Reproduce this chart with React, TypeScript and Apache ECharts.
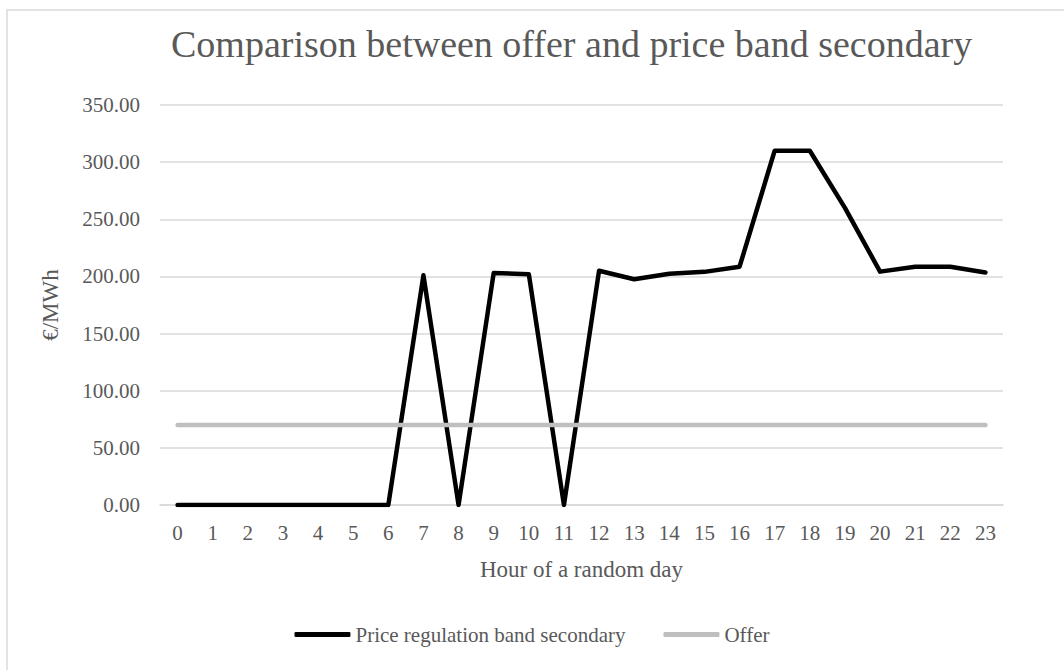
import React, { useEffect, useRef } from "react";
import * as echarts from "echarts";

const hours = ["0","1","2","3","4","5","6","7","8","9","10","11","12","13","14","15","16","17","18","19","20","21","22","23"];
const priceBand = [0,0,0,0,0,0,0,201,0,203,202,0,205,197.5,202.3,204,208.5,310,310,260,204.2,208.5,208.5,203.5];
const offer = [70,70,70,70,70,70,70,70,70,70,70,70,70,70,70,70,70,70,70,70,70,70,70,70];

const FONT = "'Liberation Serif', 'DejaVu Serif', serif";
const TXT = "#595959";

export default function App() {
  const ref = useRef<HTMLDivElement>(null);
  useEffect(() => {
    const chart = echarts.init(ref.current!, null, { renderer: "svg" });
    chart.setOption({
      animation: false,
      backgroundColor: "#ffffff",
      textStyle: { fontFamily: FONT, color: TXT },
      graphic: [
        {
          type: "rect",
          shape: { x: 7, y: 10, width: 1200, height: 800 },
          style: { fill: "none", stroke: "#d9d9d9", lineWidth: 1.5 },
          silent: true,
        },
      ],
      title: {
        text: "Comparison between offer and price band secondary",
        left: 166,
        top: 20,
        textStyle: { fontFamily: FONT, fontSize: 38, fontWeight: "normal", color: TXT },
      },
      grid: { left: 160, right: 61, top: 105, bottom: 165, containLabel: false },
      legend: {
        bottom: 20,
        left: "center",
        itemWidth: 56,
        itemHeight: 5,
        itemGap: 38,
        textStyle: { fontFamily: FONT, fontSize: 21, color: TXT },
        data: [
          { name: "Price regulation band secondary", icon: "roundRect" },
          { name: "Offer", icon: "roundRect" },
        ],
      },
      xAxis: {
        type: "category",
        data: hours,
        boundaryGap: true,
        name: "Hour of a random day",
        nameLocation: "middle",
        nameGap: 53,
        nameTextStyle: { fontFamily: FONT, fontSize: 23, color: TXT },
        axisTick: { show: false },
        axisLine: { lineStyle: { color: "#d9d9d9", width: 1.5 } },
        axisLabel: { fontFamily: FONT, fontSize: 21, color: TXT, margin: 17, interval: 0 },
      },
      yAxis: {
        type: "value",
        min: 0,
        max: 350,
        interval: 50,
        name: "€/MWh",
        nameLocation: "middle",
        nameGap: 98,
        nameTextStyle: { fontFamily: FONT, fontSize: 23, color: TXT },
        axisLine: { show: false },
        axisTick: { show: false },
        splitLine: { lineStyle: { color: "#d9d9d9", width: 1.5 } },
        axisLabel: {
          fontFamily: FONT,
          fontSize: 21,
          color: TXT,
          margin: 20,
          formatter: (v: number) => v.toFixed(2),
        },
      },
      series: [
        {
          name: "Price regulation band secondary",
          type: "line",
          data: priceBand,
          showSymbol: false,
          symbol: "none",
          color: "#000000",
          lineStyle: { color: "#000000", width: 4.5, cap: "round", join: "round" },
        },
        {
          name: "Offer",
          type: "line",
          data: offer,
          showSymbol: false,
          symbol: "none",
          color: "#bfbfbf",
          lineStyle: { color: "#bfbfbf", width: 4.5, cap: "round", join: "round" },
        },
      ],
    });
    return () => chart.dispose();
  }, []);
  return (
    <div
      ref={ref}
      style={{ position: "fixed", left: 0, top: 0, width: 1064, height: 670 }}
    />
  );
}
